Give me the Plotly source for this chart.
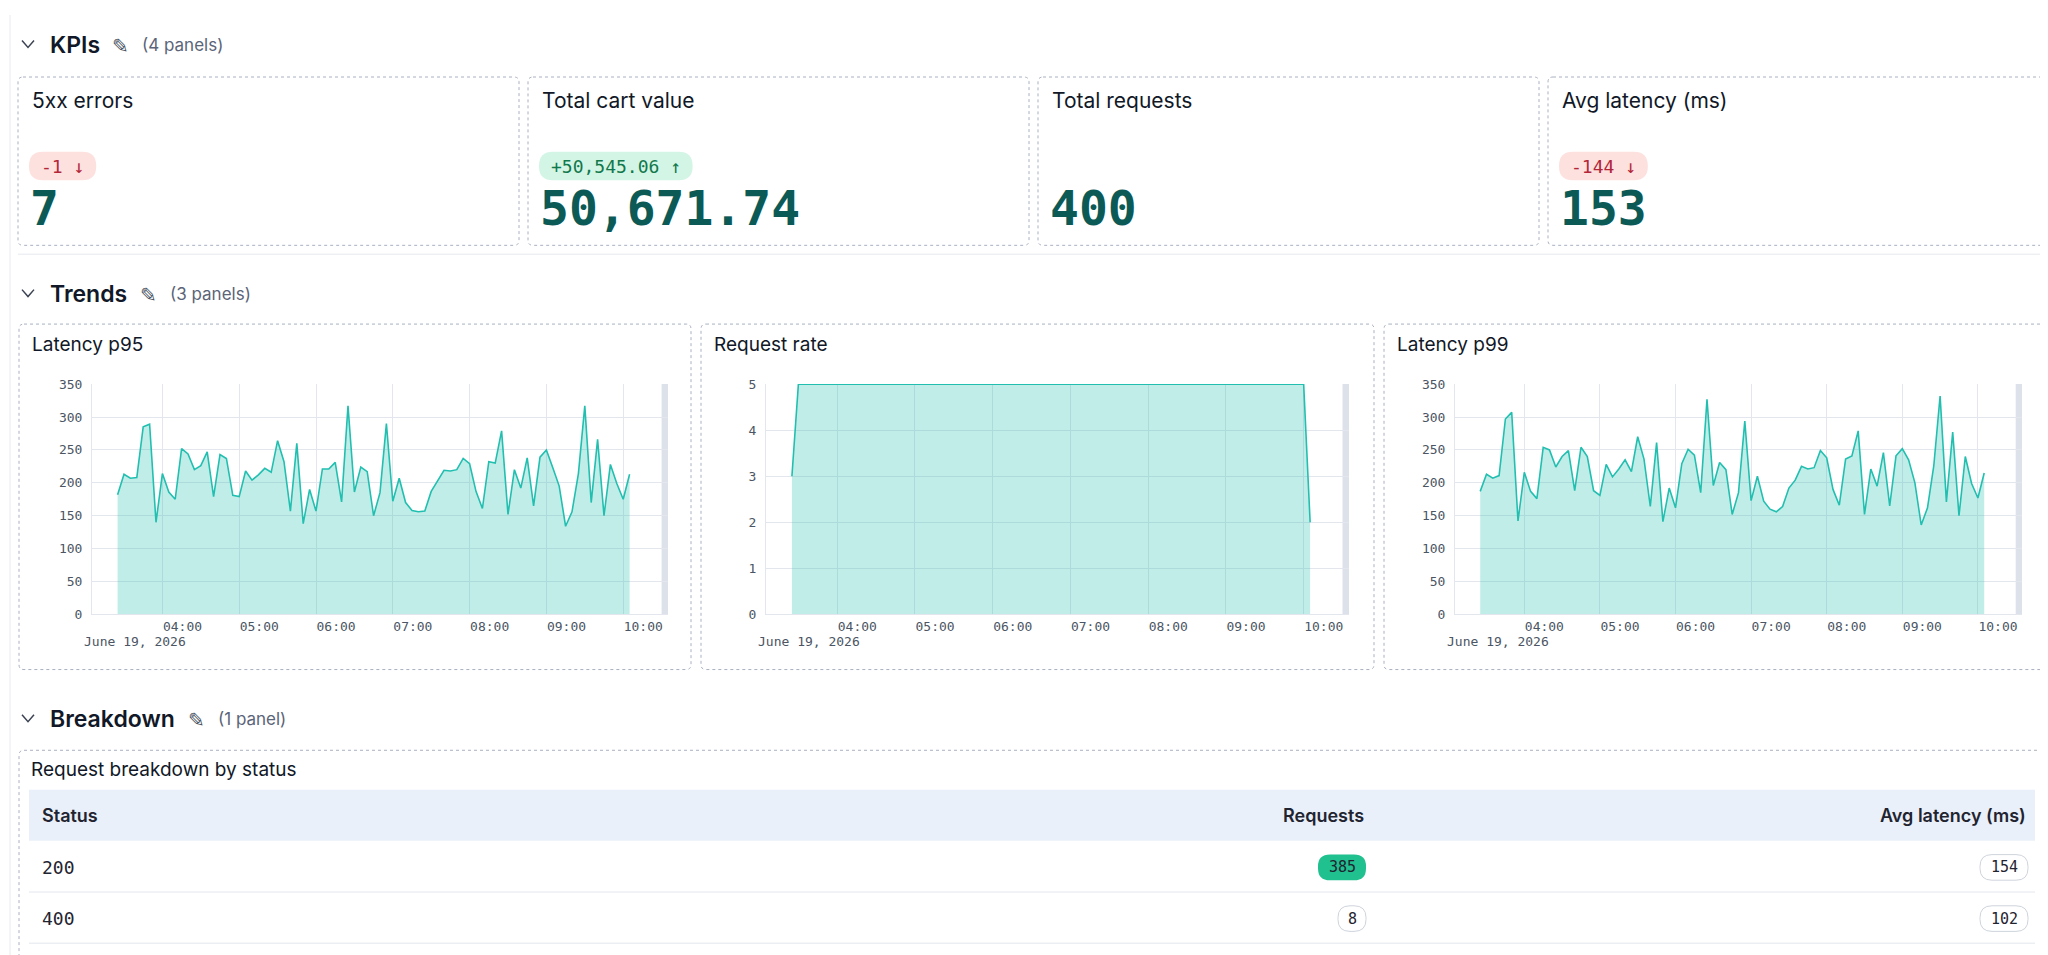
import pandas as pd
import plotly.graph_objects as go

W, H = 2048, 955

# ---------------- data ----------------
kpi_titles = ["5xx errors", "Total cart value", "Total requests", "Avg latency (ms)"]
kpi_values = ["7", "50,671.74", "400", "153"]
kpi_deltas = ["-1 ↓", "+50,545.06 ↑", None, "-144 ↓"]
kpi_delta_dir = ["down", "up", None, "down"]

start_time = "2026-06-19 03:25"
step = "5min"

latency_p95 = [182, 213, 207, 208, 285, 289, 140, 214, 186, 175, 252, 244, 220, 226, 247, 179,
               243, 237, 181, 179, 218, 204, 212, 222, 216, 264, 232, 157, 260, 138, 190, 157,
               221, 221, 231, 171, 317, 186, 224, 217, 150, 185, 290, 172, 207, 170, 158, 156,
               157, 187, 203, 219, 218, 220, 237, 229, 187, 161, 232, 230, 279, 152, 220, 192,
               238, 165, 239, 250, 223, 195, 134, 156, 214, 317, 170, 266, 150, 228, 199, 175, 213]
latency_p99 = [187, 213, 207, 211, 297, 307, 142, 216, 187, 176, 254, 250, 224, 240, 249, 188,
               254, 240, 188, 181, 228, 209, 221, 235, 217, 270, 236, 164, 261, 141, 192, 162,
               229, 251, 242, 185, 327, 196, 231, 220, 152, 185, 294, 173, 210, 172, 160, 156,
               164, 192, 204, 225, 221, 223, 249, 238, 190, 166, 236, 241, 279, 152, 221, 195,
               246, 165, 241, 252, 235, 200, 136, 162, 226, 332, 171, 277, 150, 240, 199, 177, 215]
request_rate = [3] + [5] * 79 + [2]

table_status = ["200", "400"]
table_requests = [385, 8]
table_latency = [154, 102]

# ---------------- helpers ----------------
def px(x):
    return x / W

def py(y):
    return 1 - y / H

shapes, annos = [], []

def rrect(x0, y0, x1, y1, r, fill=None, line=None, dash=None, lw=1):
    p = (f"M {px(x0+r)},{py(y0)} L {px(x1-r)},{py(y0)} Q {px(x1)},{py(y0)} {px(x1)},{py(y0+r)} "
         f"L {px(x1)},{py(y1-r)} Q {px(x1)},{py(y1)} {px(x1-r)},{py(y1)} "
         f"L {px(x0+r)},{py(y1)} Q {px(x0)},{py(y1)} {px(x0)},{py(y1-r)} "
         f"L {px(x0)},{py(y0+r)} Q {px(x0)},{py(y0)} {px(x0+r)},{py(y0)} Z")
    shapes.append(dict(type="path", path=p, xref="paper", yref="paper",
                       fillcolor=fill or "rgba(0,0,0,0)",
                       line=dict(color=line or "rgba(0,0,0,0)", width=lw if line else 0, dash=dash),
                       layer="below"))

def text(x, y, s, size=14, color="#1f2430", family="Inter", anchor="left", weight="normal"):
    annos.append(dict(x=px(x), y=py(y), xref="paper", yref="paper", text=s, showarrow=False,
                      xanchor=anchor, yanchor="middle",
                      font=dict(size=size, color=color, family=family, weight=weight)))

def hline(x0, x1, y, color="#e6e8ec", width=1):
    shapes.append(dict(type="line", x0=px(x0), x1=px(x1), y0=py(y), y1=py(y), xref="paper",
                       yref="paper", line=dict(color=color, width=width)))

def section(y, title, count, title_w):
    shapes.append(dict(type="path", xref="paper", yref="paper",
                       path=f"M {px(14)},{py(y-4)} L {px(20)},{py(y+3)} L {px(26)},{py(y-4)}",
                       line=dict(color="#3b4252", width=1.5)))
    text(40, y, title, size=23, weight=600, color="#111827")
    text(40 + title_w + 10, y + 1, "✎", size=20, color="#4b5563", family="DejaVu Sans")
    text(40 + title_w + 40, y, count, size=17, color="#5b6478")

MONO = "DejaVu Sans Mono"
GRID = "#e3e6ec"
TEAL = "#22bfb0"
FILL = "rgba(34,191,176,0.28)"
RIGHT = 2037

shapes.append(dict(type="line", x0=px(2), x1=px(2), y0=py(0), y1=py(H), xref="paper",
                   yref="paper", line=dict(color="#e8eaee", width=1)))

# ---------------- KPIs ----------------
section(30, "KPIs", "(4 panels)", 52)
card_x = [(10, 511), (520, 1021), (1030, 1531), (1540, RIGHT)]
for i, (x0, x1) in enumerate(card_x):
    rrect(x0, 63, x1, 234, 5, fill="white", line="#a9b0c0", dash="dot")
    text(x0 + 12, 87, kpi_titles[i], size=21, color="#111827")
    if kpi_deltas[i]:
        up = kpi_delta_dir[i] == "up"
        bw = 18 + 10.8 * len(kpi_deltas[i]) + 6
        rrect(x0 + 11, 139, x0 + 11 + bw, 168, 14,
              fill="#d3f5e6" if up else "#fde1de")
        text(x0 + 11 + bw / 2, 153.5, kpi_deltas[i], size=18, family=MONO,
             color="#11784c" if up else "#b3263a", anchor="center")
    text(x0 + 10, 196, kpi_values[i], size=48, family=MONO, weight="bold", color="#0b5a56")
hline(10, RIGHT, 243)

# ---------------- Trends ----------------
section(283, "Trends", "(3 panels)", 80)
panels = [(11, 683, "Latency p95"), (693, 1366, "Request rate"), (1376, RIGHT, "Latency p99")]
for x0, x1, t in panels:
    rrect(x0, 314, x1, 665, 5, fill="white", line="#a9b0c0", dash="dot")
    text(x0 + 11, 335, t, size=19, color="#111827")

times = pd.date_range(start_time, periods=len(latency_p95), freq=step)
xrange_ = ["2026-06-19 03:05", "2026-06-19 10:35"]
plot_x = [(84, 660), (758, 1341), (1447, 2014)]
series = [(latency_p95, [0, 350], 50), (request_rate, [0, 5], 1), (latency_p99, [0, 350], 50)]

fig = go.Figure()
for i, ((a, b), (vals, yr, dt)) in enumerate(zip(plot_x, series)):
    n = "" if i == 0 else str(i + 1)
    fig.add_trace(go.Scatter(x=times, y=vals, mode="lines", fill="tozeroy", fillcolor=FILL,
                             line=dict(color=TEAL, width=1.6), xaxis="x" + n, yaxis="y" + n,
                             hoverinfo="skip", showlegend=False))
    fig.update_layout(**{
        "xaxis" + n: dict(domain=[px(a), px(b)], anchor="y" + n, type="date", range=xrange_,
                          tickformat="%H:%M", dtick=3600000, tick0="2026-06-19 04:00",
                          showgrid=True, gridcolor=GRID, zeroline=False, showline=True,
                          linecolor=GRID, ticks="", ticklabelposition="outside right",
                          tickfont=dict(family=MONO, size=13, color="#4b5563")),
        "yaxis" + n: dict(domain=[py(609), py(375)], anchor="x" + n, range=yr, dtick=dt,
                          showgrid=True, gridcolor=GRID, zeroline=False, showline=True,
                          linecolor=GRID, ticks="outside", ticklen=6, tickcolor="white",
                          tickfont=dict(family=MONO, size=13, color="#4b5563")),
    })
    shapes.append(dict(type="rect", xref="x" + n, yref="y" + n + " domain",
                       x0="2026-06-19 10:30", x1="2026-06-19 10:35", y0=0, y1=1,
                       fillcolor="#dde1ea", line=dict(width=0), layer="below"))
    text(a - 10, 637, "June 19, 2026", size=13, family=MONO, color="#4b5563")

# ---------------- Breakdown ----------------
section(715, "Breakdown", "(1 panel)", 128)
rrect(11, 747, RIGHT, 1000, 5, fill="white", line="#a9b0c0", dash="dot")
text(21, 767, "Request breakdown by status", size=19, color="#111827")
shapes.append(dict(type="rect", xref="paper", yref="paper", x0=px(21), x1=px(RIGHT - 10),
                   y0=py(787), y1=py(839), fillcolor="#eaf0f9", line=dict(width=0), layer="below"))
text(32, 813, "Status", size=18, weight=600, color="#1f2430")
text(1358, 813, "Requests", size=18, weight=600, color="#1f2430", anchor="right")
text(RIGHT - 17, 813, "Avg latency (ms)", size=18, weight=600, color="#1f2430", anchor="right")
row_y = [866, 918]
mx = max(table_requests)
for i in range(len(table_status)):
    y = row_y[i]
    text(32, y, table_status[i], size=18, family=MONO, color="#1f2430")
    hline(21, RIGHT - 10, y + 25, color="#e3e6ec")
    s = str(table_requests[i])
    w = 18 + 10 * len(s)
    hot = table_requests[i] == mx
    rrect(1358 - w, y - 13, 1358, y + 13, 12,
          fill="#20c08f" if hot else "white", line=None if hot else "#cfd4dc")
    text(1358 - w / 2, y, s, size=15, family=MONO, color="#1f2430", anchor="center")
    s2 = str(table_latency[i])
    w2 = 18 + 10 * len(s2)
    rrect(RIGHT - 17 - w2, y - 13, RIGHT - 17, y + 13, 12, fill="white", line="#cfd4dc")
    text(RIGHT - 17 - w2 / 2, y, s2, size=15, family=MONO, color="#1f2430", anchor="center")

fig.update_layout(width=W, height=H, margin=dict(l=0, r=0, t=0, b=0), autosize=False,
                  paper_bgcolor="white", plot_bgcolor="white", shapes=shapes, annotations=annos,
                  font=dict(family="Inter"))
fig.write_html("out.html", config={"displayModeBar": False})
